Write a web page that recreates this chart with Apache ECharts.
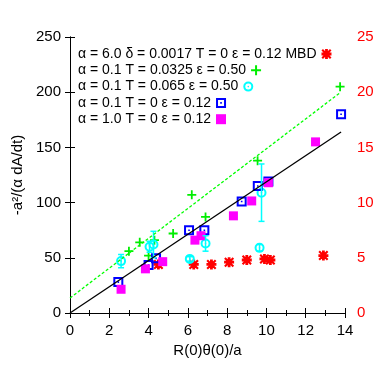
<!DOCTYPE html>
<html lang="en">
<head>
    <meta charset="UTF-8">
    <title>eCharts</title>
    <script src="https://cdn.jsdelivr.net/npm/echarts@6.0.0/dist/echarts.min.js"></script>
</head>
<body style="margin:0">
    <div id="main" style="width: 382px;height:382px;"></div>
    <script type="text/javascript">
        // alpha = 6.0, MBD
        const mbdX = [4.5, 6.3, 7.2, 8.1, 9.0, 9.9, 10.2, 12.9];
        const mbdY = [44, 44, 44, 46, 48, 49, 48, 52];
        // alpha = 0.1, T = 0.0325
        const t0325X = [3.0, 3.55, 4.0, 4.3, 5.25, 6.2, 6.9, 9.55, 13.75];
        const t0325Y = [56, 64, 52, 66, 72, 107, 87, 138, 205];
        // alpha = 0.1, T = 0.065 (with error bars)
        const t065X = [2.6, 4.05, 4.25, 6.1, 6.9, 9.65, 9.75];
        const t065Y = [47, 60, 62, 49, 63, 59, 109];
        const t065Err = [6, 5, 12, 2, 7, 3, 26];
        // alpha = 0.1, T = 0
        const a01X = [2.46, 4.0, 4.38, 6.06, 6.84, 8.74, 9.56, 10.1, 13.8];
        const a01Y = [28, 43.5, 49.5, 75, 75, 101, 115, 119, 180];
        // alpha = 1.0, T = 0
        const a10X = [2.6, 3.84, 4.72, 6.36, 6.67, 8.32, 9.25, 10.1, 12.5];
        const a10Y = [21.5, 40, 46.5, 66, 70, 88, 101.5, 118, 155];
        // fitted lines
        const fitX = [0, 13.8];
        const fitY = [0, 164];
        const fitDashX = [0, 13.75];
        const fitDashY = [13.6, 199.5];

        const names = [
            'α = 6.0 δ = 0.0017 T = 0 ε = 0.12 MBD',
            'α = 0.1 T = 0.0325 ε = 0.50',
            'α = 0.1 T = 0.065 ε = 0.50',
            'α = 0.1 T = 0 ε = 0.12',
            'α = 1.0 T = 0 ε = 0.12'
        ];

        const zip = (xs, ys) => xs.map((x, i) => [x, ys[i]]);

        // marker shapes
        const starPath = 'path://M3.6 0H6.4V3.6H10V6.4H6.4V10H3.6V6.4H0V3.6H3.6Z M1.5 0L5 3.5L8.5 0L10 1.5L6.5 5L10 8.5L8.5 10L5 6.5L1.5 10L0 8.5L3.5 5L0 1.5Z';
        const plusPath = 'path://M4 0H6V4H10V6H6V10H4V6H0V4H4Z';
        const boxDotPath = 'path://M0 0H10V10H0Z M2 2V8H8V2Z M4.2 4.2H5.8V5.8H4.2Z';
        const ringPath = 'path://M5 0A5 5 0 1 1 5 10A5 5 0 1 1 5 0Z M5 2A3 3 0 1 0 5 8A3 3 0 1 0 5 2Z M5 4.2A0.8 0.8 0 1 1 5 5.8A0.8 0.8 0 1 1 5 4.2Z';

        const font = 'Liberation Sans';

        // one legend per entry so the text stays left-aligned with its marker after it
        const legends = names.map((n, i) => ({
            data: [n],
            orient: 'vertical',
            left: 78,
            top: 47 + i * 16.3,
            padding: 0,
            align: 'right',
            itemWidth: 10,
            itemHeight: 10,
            selectedMode: false,
            textStyle: { fontSize: 14, color: '#000', fontFamily: font }
        }));

        let options = {
            animation: false,
            textStyle: { fontFamily: font },
            grid: { left: 70, right: 37, top: 37, bottom: 69 },
            legend: legends,
            xAxis: [{
                type: 'value', min: 0, max: 14, interval: 2,
                name: 'R(0)θ(0)/a', nameLocation: 'middle', nameGap: 28,
                nameTextStyle: { fontSize: 15, color: '#000' },
                axisLine: { lineStyle: { color: '#000' } },
                axisTick: { inside: true, length: 5, lineStyle: { color: '#000' } },
                minorTick: { show: true, splitNumber: 2, length: 3, lineStyle: { color: '#000' } },
                axisLabel: { fontSize: 15, color: '#000', margin: 10 },
                splitLine: { show: false }
            }, {
                type: 'value', min: 0, max: 14, interval: 2, position: 'top',
                axisLine: { lineStyle: { color: '#000' } },
                axisTick: { inside: true, length: 5, lineStyle: { color: '#000' } },
                minorTick: { show: true, splitNumber: 2, length: 3, lineStyle: { color: '#000' } },
                axisLabel: { show: false },
                splitLine: { show: false }
            }],
            yAxis: [{
                type: 'value', min: 0, max: 250, interval: 50,
                name: '-a²/(α dA/dt)', nameLocation: 'middle', nameGap: 36,
                nameTextStyle: { fontSize: 15, color: '#000' },
                axisLine: { show: true, lineStyle: { color: '#000' } },
                axisTick: { show: true, inside: true, length: 5, lineStyle: { color: '#000' } },
                axisLabel: { fontSize: 15, color: '#000', margin: 9 },
                splitLine: { show: false }
            }, {
                type: 'value', min: 0, max: 25, interval: 5, position: 'right',
                axisLine: { show: true, lineStyle: { color: '#000' } },
                axisTick: { show: true, inside: true, length: 5, lineStyle: { color: '#000' } },
                axisLabel: { fontSize: 15, color: '#ff0000', margin: 12 },
                splitLine: { show: false }
            }],
            series: [
                {
                    type: 'line', data: zip(fitX, fitY), showSymbol: false,
                    lineStyle: { color: '#000', width: 1.3 }, silent: true
                },
                {
                    type: 'line', data: zip(fitDashX, fitDashY), showSymbol: false,
                    lineStyle: { color: '#00ff00', width: 1.3, type: [3, 2] }, silent: true
                },
                {
                    name: names[0], type: 'scatter', data: zip(mbdX, mbdY),
                    symbol: starPath, symbolSize: 10, itemStyle: { color: '#ff0000', opacity: 1 }
                },
                {
                    name: names[1], type: 'scatter', data: zip(t0325X, t0325Y),
                    symbol: plusPath, symbolSize: 9, itemStyle: { color: '#00ee00', opacity: 1 }
                },
                {
                    name: names[2], type: 'scatter', data: zip(t065X, t065Y),
                    symbol: ringPath, symbolSize: 10, itemStyle: { color: '#00ffff', opacity: 1 }
                },
                {
                    type: 'custom', silent: true, z: 3,
                    data: t065X.map((x, i) => [x, t065Y[i], t065Err[i]]),
                    renderItem: function (params, api) {
                        const x = api.value(0), y = api.value(1), e = api.value(2);
                        const top = api.coord([x, y + e]);
                        const bot = api.coord([x, y - e]);
                        const style = { stroke: '#00ffff', lineWidth: 1.5 };
                        return {
                            type: 'group', children: [
                                { type: 'line', shape: { x1: top[0], y1: top[1], x2: bot[0], y2: bot[1] }, style },
                                { type: 'line', shape: { x1: top[0] - 3, y1: top[1], x2: top[0] + 3, y2: top[1] }, style },
                                { type: 'line', shape: { x1: bot[0] - 3, y1: bot[1], x2: bot[0] + 3, y2: bot[1] }, style }
                            ]
                        };
                    }
                },
                {
                    name: names[3], type: 'scatter', data: zip(a01X, a01Y),
                    symbol: boxDotPath, symbolSize: 10, itemStyle: { color: '#0000ff', opacity: 1 }
                },
                {
                    name: names[4], type: 'scatter', data: zip(a10X, a10Y),
                    symbol: 'rect', symbolSize: 9, itemStyle: { color: '#ff00ff', opacity: 1 }
                }
            ]
        };

        let myChart = echarts.init(document.getElementById('main'));
        myChart.setOption(options);
    </script>
</body>
</html>
